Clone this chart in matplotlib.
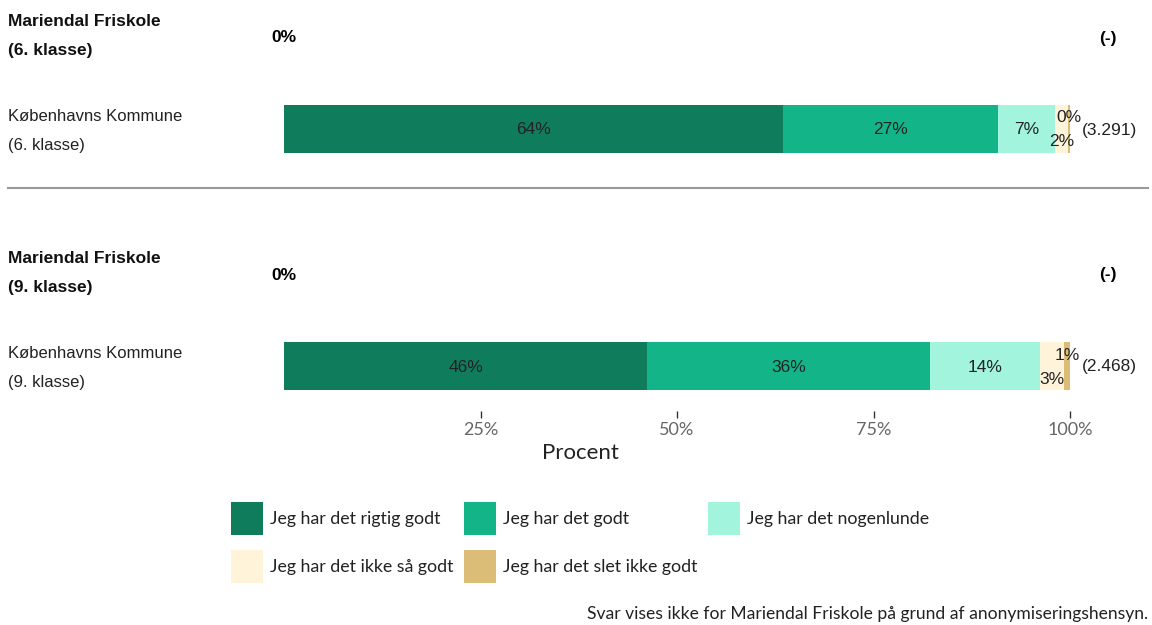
import matplotlib
matplotlib.use("Agg")
import matplotlib.pyplot as plt
from matplotlib.patches import Patch

# --- data ---
categories = ["Jeg har det rigtig godt", "Jeg har det godt", "Jeg har det nogenlunde",
              "Jeg har det ikke så godt", "Jeg har det slet ikke godt"]
colors = ["#0F7D5C", "#13B588", "#A2F4DC", "#FFF4DA", "#DCBD78"]

groups = ["Mariendal Friskole\n(6. klasse)", "Mariendal Friskole\n(9. klasse)"]
group_values = ["0%", "0%"]
group_n = ["(-)", "(-)"]

kommune = ["Københavns Kommune\n(6. klasse)", "Københavns Kommune\n(9. klasse)"]
kbh_6 = [63.5, 27.3, 7.3, 1.6, 0.3]
kbh_9 = [46.2, 36.0, 14.0, 3.0, 0.8]
kbh_n = ["(3.291)", "(2.468)"]

ticks = [25, 50, 75, 100]
tick_labels = ["25%", "50%", "75%", "100%"]
footnote = "Svar vises ikke for Mariendal Friskole på grund af anonymiseringshensyn."

# --- layout (pixel based) ---
W, H = 1152, 625
fig = plt.figure(figsize=(W / 100, H / 100), dpi=100)
x0, x1 = 284, 1070     # 0% and 100% in pixels
axis_y = 411           # pixel row of the x axis
ax = fig.add_axes([x0 / W, 1 - axis_y / H, (x1 - x0) / W, axis_y / H])
ax.set_xlim(0, 100)
ax.set_ylim(axis_y, 0)  # y in pixel rows from the top
for s in ax.spines.values():
    s.set_visible(False)
ax.set_yticks([])
ax.set_xticks(ticks)
ax.set_xticklabels(tick_labels, fontsize=13, color="#666666", family="Lato")
ax.tick_params(axis="x", length=5, width=1, color="#333333", pad=3)

SANS = "Liberation Sans"
def ftext(px, py, s, **kw):
    fig.text(px / W, 1 - py / H, s, **kw)

header_y = [36, 273]
bar_y = [129, 366]
series = [kbh_6, kbh_9]

for i in range(2):
    # school header (suppressed)
    ftext(8, header_y[i], groups[i], fontsize=12.5, fontweight="bold", family=SANS,
          va="center", ha="left", linespacing=2.15, color="#111111")
    ax.text(0, header_y[i] + 2, group_values[i], fontsize=12.5, fontweight="bold",
            family=SANS, ha="center", va="center", clip_on=False)
    ax.text(104.8, header_y[i] + 2, group_n[i], fontsize=12.5, fontweight="bold",
            family=SANS, ha="center", va="center", clip_on=False)

    # kommune bar
    ftext(8, bar_y[i] + 2, kommune[i], fontsize=12, family=SANS, va="center", ha="left",
          linespacing=2.1, color="#222222")
    left = 0
    vals = series[i]
    for j, v in enumerate(vals):
        ax.barh(bar_y[i], v, left=left, height=48, color=colors[j], linewidth=0)
        c = left + v / 2
        lab = f"{v:.0f}%"
        if v >= 5:
            ax.text(c, bar_y[i] + 1, lab, ha="center", va="center", fontsize=12.5,
                    family=SANS, color="#222222")
        else:
            dy = 13 if j == 3 else -11
            ax.text(c, bar_y[i] + dy, lab, ha="center", va="center", fontsize=12.5,
                    family=SANS, color="#222222", clip_on=False)
        left += v
    ax.text(105, bar_y[i] + 1, kbh_n[i], ha="center", va="center", fontsize=12.5,
            family=SANS, color="#222222", clip_on=False)

# divider
fig.add_artist(plt.Line2D([8 / W, 1148 / W], [1 - 188 / H, 1 - 188 / H],
                          color="#9a9a9a", linewidth=1.5))

# axis title
ftext(580, 453, "Procent", fontsize=16, family="Lato", ha="center", va="center",
      color="#222222")

# legend (column-major order so rows read as in the original)
order = [0, 3, 1, 4, 2]
handles = [Patch(facecolor=colors[k], edgecolor="none", label=categories[k]) for k in order]
leg = fig.legend(handles=handles, ncol=3, loc="upper left",
                 bbox_to_anchor=(231 / W, 1 - 502 / H), frameon=False,
                 prop={"family": "Lato", "size": 12.8}, handlelength=1.8,
                 handleheight=2.475, handletextpad=0.39, labelspacing=0.84,
                 columnspacing=0.6, borderpad=0, borderaxespad=0)
for t in leg.get_texts():
    t.set_color("#222222")

ftext(1148, 614, footnote, fontsize=12.6, family="Lato", ha="right", va="center",
      color="#222222")

fig.savefig("out.png", dpi=100)
